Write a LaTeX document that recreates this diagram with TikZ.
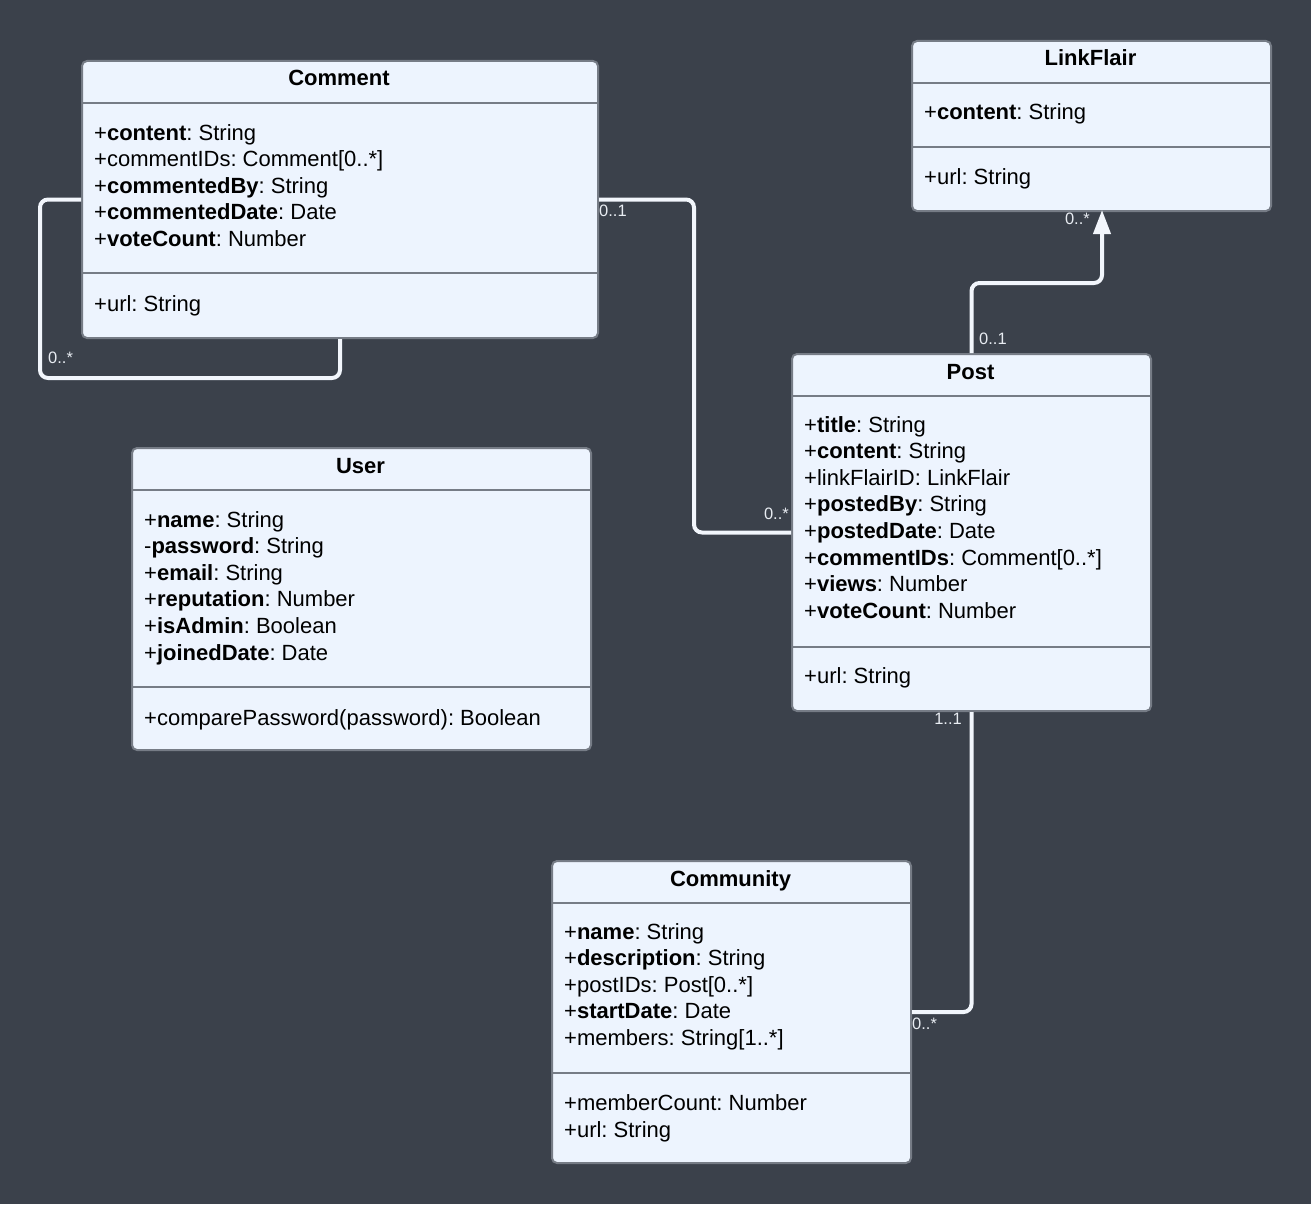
\documentclass[tikz,border=0pt]{standalone}
\usepackage{fontspec}
\setmainfont{Liberation Sans}
\usetikzlibrary{arrows.meta,calc}
\frenchspacing

\definecolor{canvas}{RGB}{59,65,75}
\definecolor{boxfill}{RGB}{237,244,254}
\definecolor{boxline}{RGB}{118,124,134}
\definecolor{wire}{RGB}{242,246,252}
\definecolor{multext}{RGB}{232,236,242}

\begin{document}
\begin{tikzpicture}[x=1pt,y=-1pt,
  cls/.style={draw=boxline, line width=2pt, fill=boxfill, rounded corners=5pt,
              anchor=north west, inner sep=0pt},
  divider/.style={draw=boxline, line width=2pt},
  ctitle/.style={anchor=base, inner sep=0pt, font=\fontsize{22}{26}\selectfont\bfseries},
  attr/.style={anchor=base west, inner sep=0pt, font=\fontsize{22}{26}\selectfont},
  conn/.style={draw=wire, line width=4pt, rounded corners=8pt},
  mult/.style={inner sep=0pt, text=multext, font=\fontsize{16.5}{18}\selectfont},
]
\useasboundingbox (0,0) rectangle (1311,1204);
\fill[canvas] (0,0) rectangle (1311,1204);

% ---------------- Comment ----------------
\node[cls, minimum width=516pt, minimum height=277pt] (comment) at (81,60) {};
\draw[divider] ($(comment.north west)+(0,43)$) -- ($(comment.north east)+(0,43)$);
\draw[divider] ($(comment.north west)+(0,213)$) -- ($(comment.north east)+(0,213)$);
\node[ctitle] (comment-t) at (339,86) {Comment};
\foreach \t [count=\i] in {
  {+\textbf{content}: String},
  {+commentIDs: Comment[0..*]},
  {+\textbf{commentedBy}: String},
  {+\textbf{commentedDate}: Date},
  {+\textbf{voteCount}: Number}}
  \node[attr] (comment-a\i) at (94,{140+26.6*(\i-1)}) {\t};
\node[attr] (comment-m1) at (94,311) {+url: String};

% ---------------- LinkFlair ----------------
\node[cls, minimum width=359pt, minimum height=170pt] (linkflair) at (911,40) {};
\draw[divider] ($(linkflair.north west)+(0,43)$) -- ($(linkflair.north east)+(0,43)$);
\draw[divider] ($(linkflair.north west)+(0,107)$) -- ($(linkflair.north east)+(0,107)$);
\node[ctitle] (linkflair-t) at (1090.5,66) {LinkFlair};
\node[attr] (linkflair-a1) at (924,120) {+\textbf{content}: String};
\node[attr] (linkflair-m1) at (924,184) {+url: String};

% ---------------- User ----------------
\node[cls, minimum width=459pt, minimum height=302pt] (user) at (131,447) {};
\draw[divider] ($(user.north west)+(0,43)$) -- ($(user.north east)+(0,43)$);
\draw[divider] ($(user.north west)+(0,240)$) -- ($(user.north east)+(0,240)$);
\node[ctitle] (user-t) at (360.5,473) {User};
\foreach \t [count=\i] in {
  {+\textbf{name}: String},
  {-\textbf{password}: String},
  {+\textbf{email}: String},
  {+\textbf{reputation}: Number},
  {+\textbf{isAdmin}: Boolean},
  {+\textbf{joinedDate}: Date}}
  \node[attr] (user-a\i) at (144,{527+26.6*(\i-1)}) {\t};
\node[attr] (user-m1) at (144,725) {+comparePassword(password): Boolean};

% ---------------- Post ----------------
\node[cls, minimum width=359pt, minimum height=357pt] (post) at (791,353) {};
\draw[divider] ($(post.north west)+(0,43)$) -- ($(post.north east)+(0,43)$);
\draw[divider] ($(post.north west)+(0,294)$) -- ($(post.north east)+(0,294)$);
\node[ctitle] (post-t) at (970.5,379) {Post};
\foreach \t [count=\i] in {
  {+\textbf{title}: String},
  {+\textbf{content}: String},
  {+linkFlairID: LinkFlair},
  {+\textbf{postedBy}: String},
  {+\textbf{postedDate}: Date},
  {+\textbf{commentIDs}: Comment[0..*]},
  {+\textbf{views}: Number},
  {+\textbf{voteCount}: Number}}
  \node[attr] (post-a\i) at (804,{432+26.6*(\i-1)}) {\t};
\node[attr] (post-m1) at (804,683) {+url: String};

% ---------------- Community ----------------
\node[cls, minimum width=359pt, minimum height=302pt] (community) at (551,860) {};
\draw[divider] ($(community.north west)+(0,43)$) -- ($(community.north east)+(0,43)$);
\draw[divider] ($(community.north west)+(0,213)$) -- ($(community.north east)+(0,213)$);
\node[ctitle] (community-t) at (730.5,886) {Community};
\foreach \t [count=\i] in {
  {+\textbf{name}: String},
  {+\textbf{description}: String},
  {+postIDs: Post[0..*]},
  {+\textbf{startDate}: Date},
  {+members: String[1..*]}}
  \node[attr] (community-a\i) at (564,{939+26.6*(\i-1)}) {\t};
\node[attr] (community-m1) at (564,1110) {+memberCount: Number};
\node[attr] (community-m2) at (564,1137) {+url: String};

% ---------------- Connectors ----------------
% Comment replies to Comment (self association)
\coordinate (loopcorner) at (40,378);
\draw[conn] (comment.west) -| (loopcorner) -| (comment.south);
\node[mult, anchor=west] (m-loop) at (48,358) {0..*};

% Comment -- Post
\coordinate (cpmid) at (694,365);
\draw[conn] (comment.east) -| (cpmid) |- (post.west);
\node[mult, anchor=west] (m-cp1) at (599,211) {0..1};
\node[mult, anchor=east] (m-cp2) at (789,514) {0..*};

% Post -> LinkFlair
\coordinate (plbend) at (1102,283);
\coordinate (plend) at (1102,210);
\draw[conn, -{Triangle[length=24pt,width=17pt]}] (post.north) |- (plbend) -- (plend);
\node[mult, anchor=west] (m-pl1) at (979,339) {0..1};
\node[mult, anchor=east] (m-pl2) at (1090,219) {0..*};

% Post -- Community
\draw[conn] (post.south) |- (community.east);
\node[mult, anchor=east] (m-pc1) at (962,719) {1..1};
\node[mult, anchor=west] (m-pc2) at (912,1024) {0..*};
\end{tikzpicture}
\end{document}
